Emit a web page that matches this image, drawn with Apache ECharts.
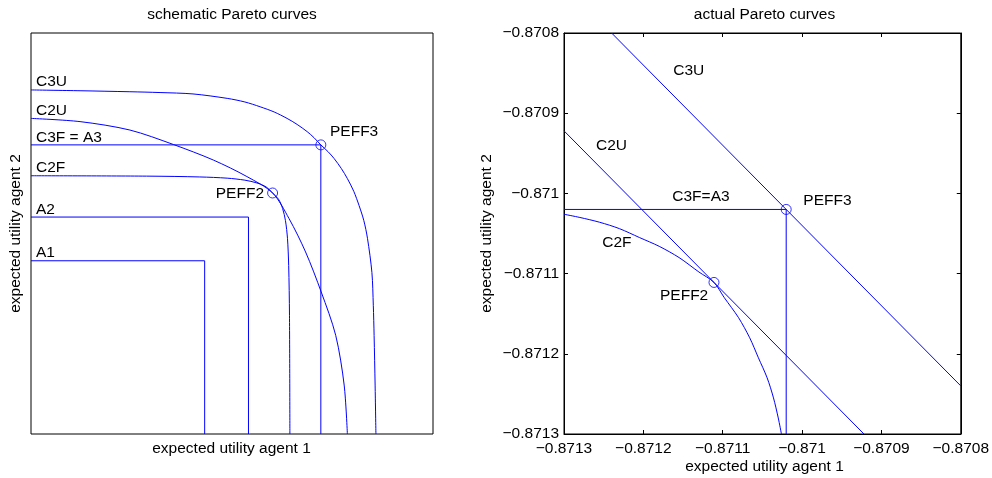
<!DOCTYPE html>
<html>
<head>
<meta charset="utf-8">
<script src="https://cdn.jsdelivr.net/npm/echarts@6/dist/echarts.min.js"></script>
<style>
html,body{margin:0;padding:0;background:#fff;}
#chart{width:992px;height:478px;}
</style>
</head>
<body>
<div id="chart"></div>
<script>
// ---------- data: schematic panel (arbitrary units 0..100) ----------
const schemC3U = [[0,85.8],[12.2,85.6],[24.6,85.35],[32.1,85.15],[40.3,84.8],[48.8,83.7],[53.2,82.8],[57.0,81.6],[60.5,80.3],[63.7,78.7],[66.2,77.2],[68.7,75.4],[70.4,73.9],[72.1,72.1],[73.9,70.4],[75.4,68.7],[77.2,66.2],[78.7,63.7],[80.3,60.5],[81.6,57.0],[82.8,53.2],[83.7,48.8],[84.8,40.3],[85.15,32.1],[85.35,24.6],[85.6,12.2],[85.8,0]];
const schemC2U = [[0,78.7],[12.2,77.9],[24.6,75.8],[35.4,72.2],[45.4,68.3],[53.7,64.2],[60.1,60.1],[64.2,53.7],[68.3,45.4],[72.2,35.4],[75.8,24.6],[77.9,12.2],[78.7,0]];
const schemC2F = [[0,64.4],[29.6,64.3],[42.0,64.1],[48.8,63.8],[53.2,63.3],[56.2,62.6],[58.5,61.6],[60.1,60.1],[61.6,58.5],[62.6,56.2],[63.3,53.2],[63.8,48.8],[64.1,42.0],[64.3,29.6],[64.4,0]];
const schemA1 = [[0,43.2],[43.2,43.2],[43.2,0]];
const schemA2 = [[0,54.1],[54.1,54.1],[54.1,0]];
const schemA3 = [[0,72.1],[72.1,72.1],[72.1,0]];
const schemPEFF = [[72.1,72.1],[60.1,60.1]];

// ---------- data: actual panel ----------
const actC3U = [[-0.87124,-0.8708],[-0.8708,-0.87124]];
const actC2U = [[-0.8713,-0.870922],[-0.870922,-0.8713]];
const actC2F = [[-0.8713,-0.871026],[-0.87128,-0.87103],[-0.871255,-0.871036],[-0.87123,-0.871044],[-0.871205,-0.871055],[-0.87118,-0.871066],[-0.871155,-0.87108],[-0.87113,-0.871098],[-0.871111,-0.871111],[-0.871098,-0.87113],[-0.87108,-0.871155],[-0.871066,-0.87118],[-0.871055,-0.871205],[-0.871044,-0.87123],[-0.871036,-0.871255],[-0.87103,-0.87128],[-0.871026,-0.8713]];
const actA3 = [[-0.8713,-0.87102],[-0.87102,-0.87102],[-0.87102,-0.8713]];
const actPEFF = [[-0.87102,-0.87102],[-0.871111,-0.871111]];
const actTicks = {min:-0.8713, max:-0.8708, interval:0.0001};

// ---------- texts ----------
const titles = ['schematic Pareto curves','actual Pareto curves'];
const xName = 'expected utility agent 1';
const yName = 'expected utility agent 2';

const BLUE = '#0000ff';
const FONT = '"Liberation Sans", Arial, Helvetica, sans-serif';
const FS = 15.5;

function fmt(v){
  let s = v.toFixed(4).replace(/0+$/,'').replace(/\.$/,'');
  return s.replace('-','\u2212');
}
function line(data, xi, yi, smooth){
  return {type:'line', data:data, xAxisIndex:xi, yAxisIndex:yi, showSymbol:false, symbol:'none',
    color:BLUE, itemStyle:{color:BLUE}, smooth:smooth||false, smoothMonotone:'none',
    lineStyle:{color:BLUE, width:1, opacity:1}, emphasis:{disabled:true}, silent:true, clip:true, z:3};
}
function pts(data, xi, yi){
  return {type:'scatter', data:data, xAxisIndex:xi, yAxisIndex:yi, symbol:'circle', symbolSize:10,
    color:BLUE, emphasis:{disabled:true},
    itemStyle:{color:'rgba(0,0,0,0)', borderColor:BLUE, borderWidth:1}, silent:true, z:4};
}
function txt(t, x, y, align, rot){
  return {type:'text', x:x, y:y, rotation:rot||0, silent:true, z:10,
    style:{text:t, fontSize:FS, fontFamily:FONT, fill:'#000', align:align||'left', verticalAlign:'middle'}};
}
const hidden = {show:false};
const tickLbl = {color:'#000', fontSize:FS, fontFamily:FONT, formatter:fmt};
function axisBase(extra){
  return Object.assign({type:'value', min:actTicks.min, max:actTicks.max, interval:actTicks.interval,
    axisLine:{show:true, onZero:false, lineStyle:{color:'#000', width:1}},
    axisTick:{show:true, inside:true, length:4, lineStyle:{color:'#000'}},
    splitLine:hidden}, extra);
}

const option = {
  animation:false,
  backgroundColor:'#fff',
  color:[BLUE],
  grid:[
    {left:31, top:33, width:402, height:401, show:true, borderColor:'#000', borderWidth:1, containLabel:false},
    {left:564, top:33, width:401, height:401, show:true, borderColor:'#000', borderWidth:1, containLabel:false}
  ],
  xAxis:[
    {type:'value', gridIndex:0, min:0, max:100, axisLine:hidden, axisTick:hidden, axisLabel:hidden, splitLine:hidden},
    axisBase({gridIndex:1, position:'bottom', axisLabel:Object.assign({margin:7}, tickLbl)}),
    axisBase({gridIndex:1, position:'top', axisLabel:hidden})
  ],
  yAxis:[
    {type:'value', gridIndex:0, min:0, max:100, axisLine:hidden, axisTick:hidden, axisLabel:hidden, splitLine:hidden},
    axisBase({gridIndex:1, position:'left', axisLabel:Object.assign({margin:5}, tickLbl)}),
    axisBase({gridIndex:1, position:'right', axisLabel:hidden})
  ],
  series:[
    line(schemC3U,0,0,0.3), line(schemC2U,0,0,0.3), line(schemC2F,0,0,0.3),
    line(schemA1,0,0), line(schemA2,0,0), line(schemA3,0,0),
    pts(schemPEFF,0,0),
    line(actC3U,1,1), line(actC2U,1,1), line(actC2F,1,1,0.3), line(actA3,1,1),
    pts(actPEFF,1,1)
  ],
  graphic:[
    txt(titles[0], 232, 15, 'center'),
    txt(titles[1], 764.5, 15, 'center'),
    txt(xName, 231.5, 449, 'center'),
    txt(xName, 764.5, 467, 'center'),
    txt(yName, 15.5, 233.5, 'center', Math.PI/2),
    txt(yName, 487, 233.5, 'center', Math.PI/2),
    txt('C3U', 36, 81.5), txt('C2U', 36, 111), txt('C3F = A3', 36, 137.3), txt('C2F', 36, 167.7),
    txt('A2', 36, 209.3), txt('A1', 36, 252.3),
    txt('PEFF3', 330, 131.7), txt('PEFF2', 264, 194, 'right'),
    txt('C3U', 673.3, 70.7), txt('C2U', 596, 145.3), txt('C3F=A3', 672.3, 196.7), txt('PEFF3', 803.3, 200.8),
    txt('C2F', 602.3, 242.8), txt('PEFF2', 660, 295.5)
  ]
};
const chart = echarts.init(document.getElementById('chart'), null, {renderer:'canvas'});
chart.setOption(option);
</script>
</body>
</html>
